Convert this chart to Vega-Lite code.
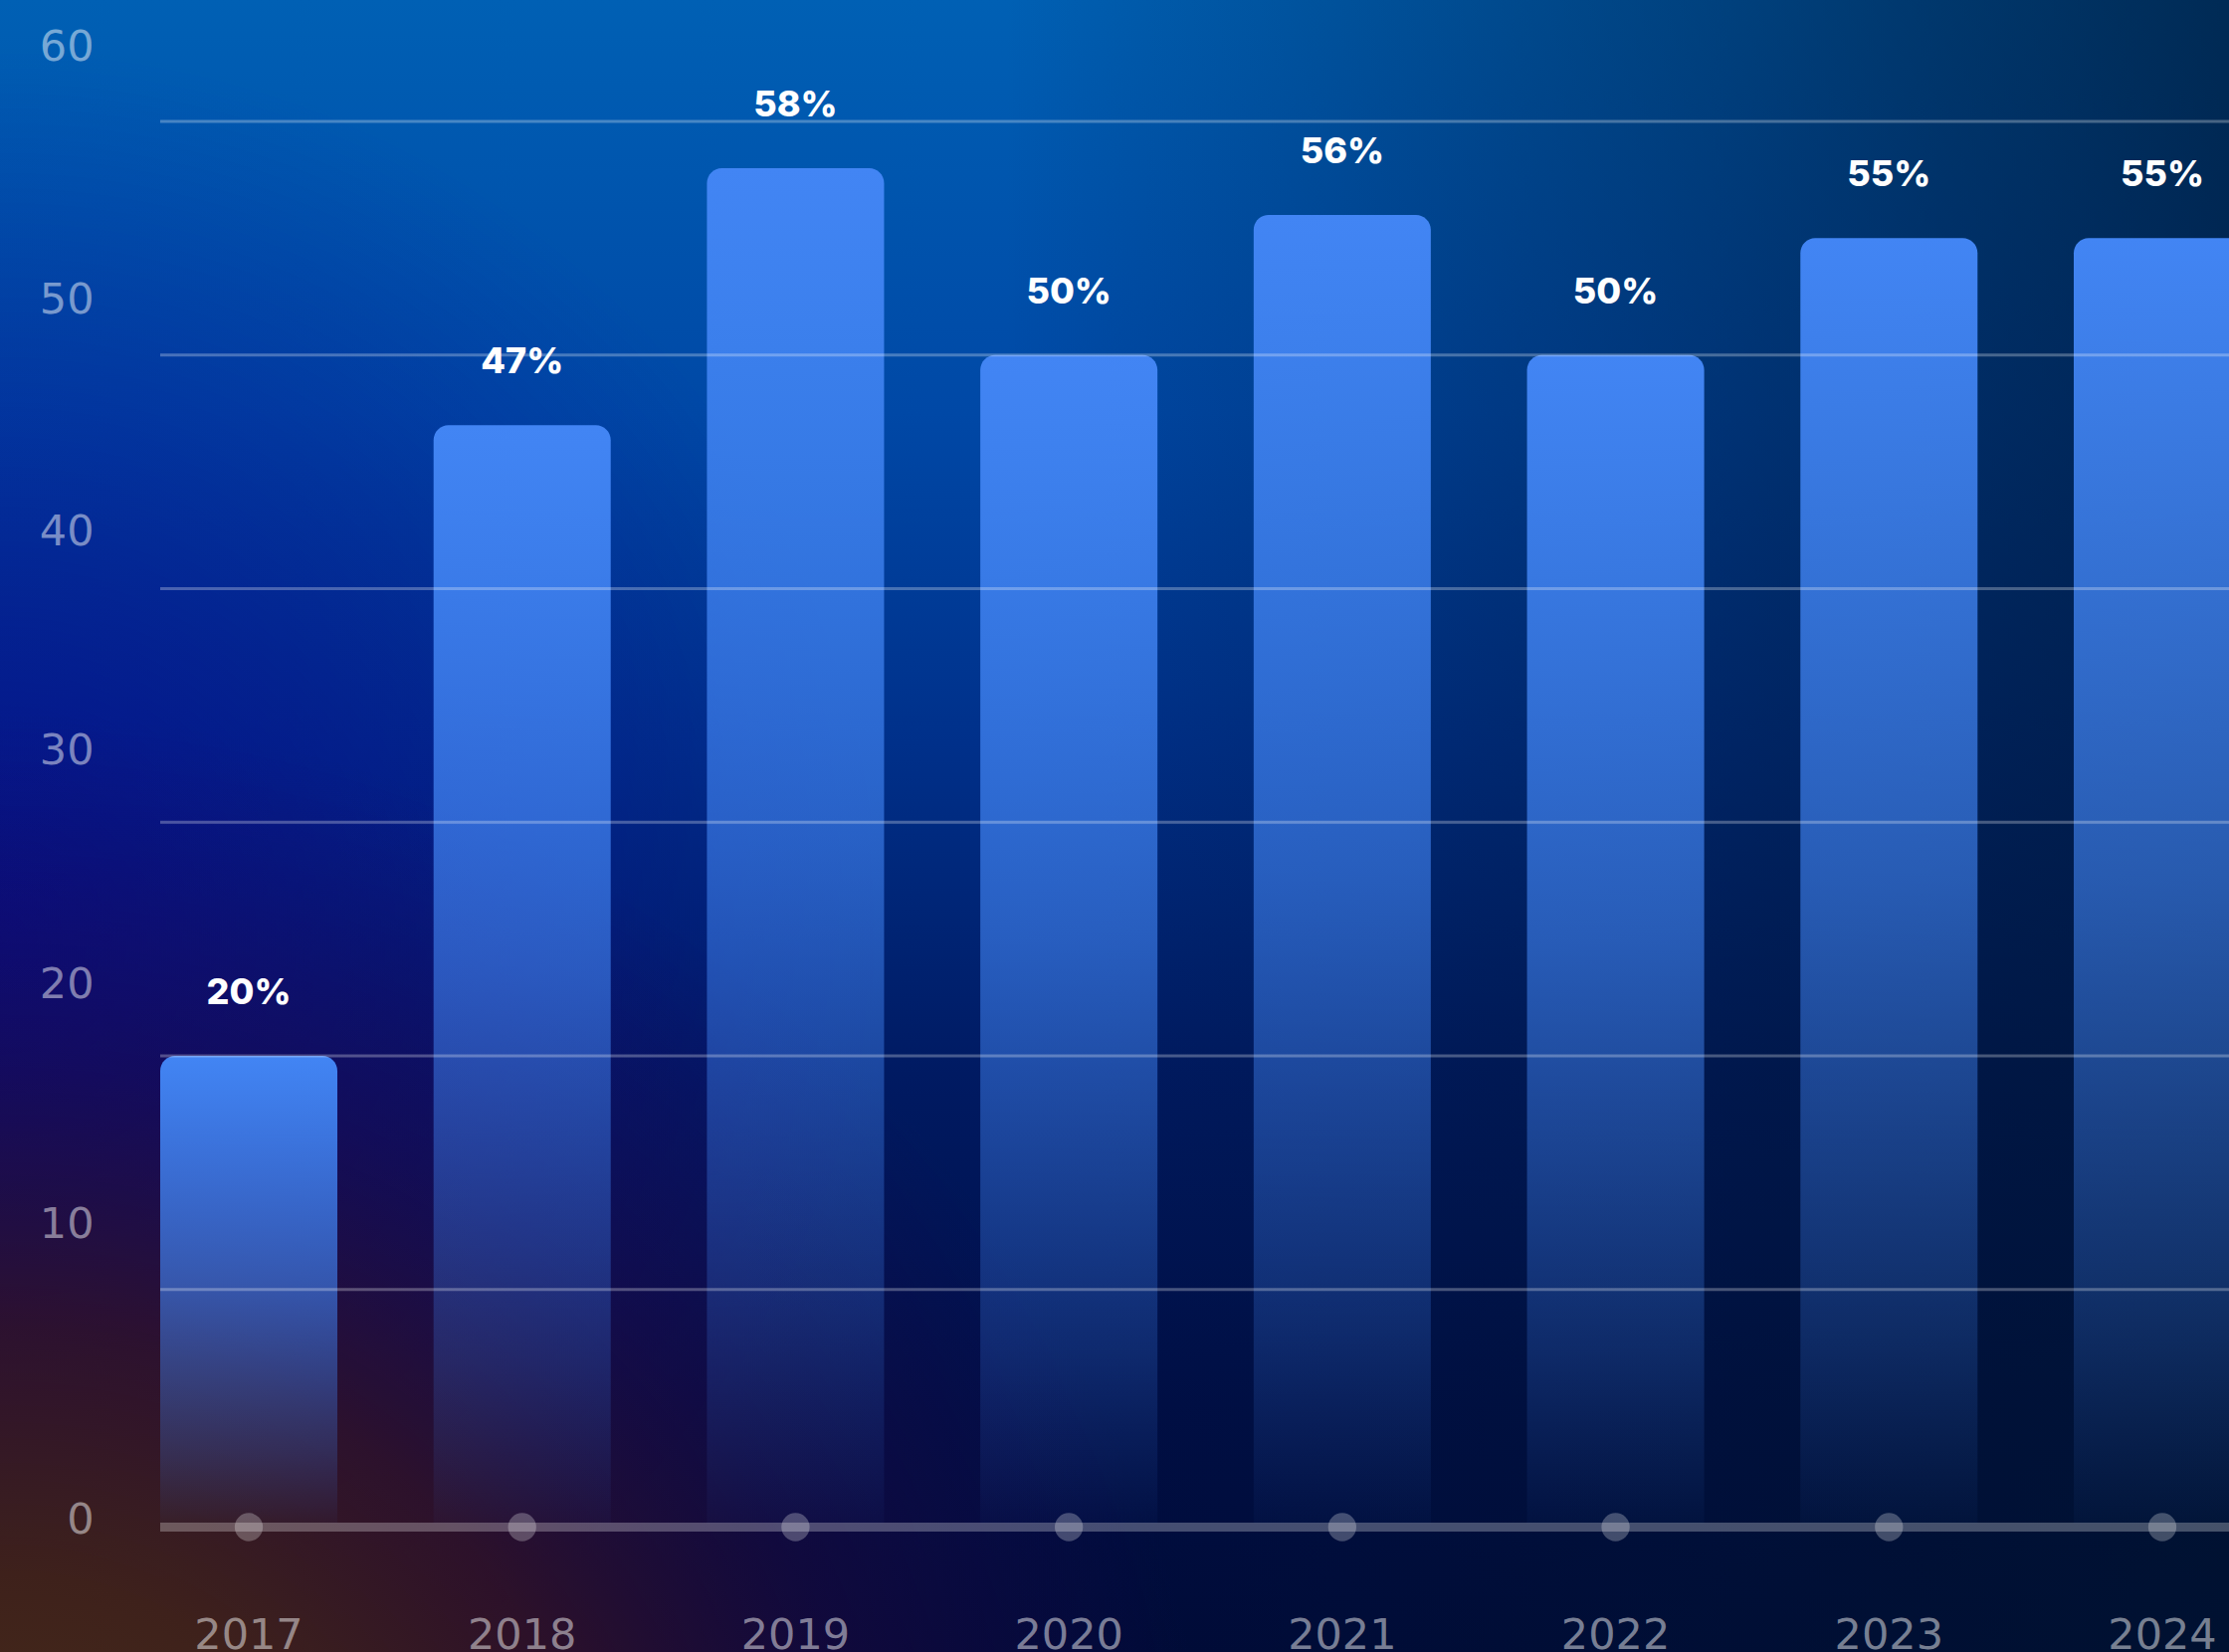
{
  "$schema": "https://vega.github.io/schema/vega-lite/v6.json",
  "width": 2240,
  "height": 1660,
  "autosize": {"type": "none"},
  "padding": 0,
  "background": "#002060",
  "config": {"view": {"stroke": null}, "font": "DejaVu Sans"},
  "datasets": {
    "bars": [
      {"year": "2017", "value": 20, "label": "20%"},
      {"year": "2018", "value": 47, "label": "47%"},
      {"year": "2019", "value": 58, "label": "58%"},
      {"year": "2020", "value": 50, "label": "50%"},
      {"year": "2021", "value": 56, "label": "56%"},
      {"year": "2022", "value": 50, "label": "50%"},
      {"year": "2023", "value": 55, "label": "55%"},
      {"year": "2024", "value": 55, "label": "55%"}
    ],
    "grid": [
      {"value": 10}, {"value": 20}, {"value": 30}, {"value": 40}, {"value": 50}, {"value": 60}
    ],
    "zero": [{"value": 0}]
  },
  "data": {"name": "bars"},
  "layer": [
    {
      "data": {"values": [{}]},
      "mark": {"type": "rect", "fill": {"gradient": "linear", "x1": 0.5, "y1": 0, "x2": 0.5, "y2": 1, "stops": [
        {"offset": 0, "color": "#0060b4"},
        {"offset": 0.25, "color": "#0048a6"},
        {"offset": 0.45, "color": "#00308a"},
        {"offset": 0.65, "color": "#001a62"},
        {"offset": 0.85, "color": "#000e46"},
        {"offset": 1, "color": "#000a38"}
      ]}},
      "encoding": {"x": {"value": 0}, "x2": {"value": "width"}, "y": {"value": 0}, "y2": {"value": "height"}}
    },
    {
      "data": {"values": [{}]},
      "mark": {"type": "rect", "fill": {"gradient": "linear", "x1": 0, "y1": 0.5, "x2": 1, "y2": 0.5, "stops": [
        {"offset": 0, "color": "rgba(0,20,50,0)"},
        {"offset": 0.45, "color": "rgba(0,20,50,0)"},
        {"offset": 1, "color": "rgba(0,20,45,0.7)"}
      ]}},
      "encoding": {"x": {"value": 0}, "x2": {"value": "width"}, "y": {"value": 0}, "y2": {"value": "height"}}
    },
    {
      "data": {"values": [{}]},
      "mark": {"type": "rect", "fill": {"gradient": "radial", "x1": 0, "y1": 0.55, "r1": 0, "x2": 0, "y2": 0.55, "r2": 0.4, "stops": [
        {"offset": 0, "color": "rgba(8,5,140,0.7)"},
        {"offset": 1, "color": "rgba(8,5,140,0)"}
      ]}},
      "encoding": {"x": {"value": 0}, "x2": {"value": "width"}, "y": {"value": 0}, "y2": {"value": "height"}}
    },
    {
      "data": {"values": [{}]},
      "mark": {"type": "rect", "fill": {"gradient": "radial", "x1": 0, "y1": 1, "r1": 0, "x2": 0, "y2": 1, "r2": 0.55, "stops": [
        {"offset": 0, "color": "rgba(78,52,22,1)"},
        {"offset": 0.3, "color": "rgba(64,34,26,0.97)"},
        {"offset": 0.5, "color": "rgba(52,18,38,0.85)"},
        {"offset": 0.72, "color": "rgba(36,8,62,0.45)"},
        {"offset": 1, "color": "rgba(30,5,80,0)"}
      ]}},
      "encoding": {"x": {"value": 0}, "x2": {"value": "width"}, "y": {"value": 0}, "y2": {"value": "height"}}
    },
    {
      "mark": {"type": "bar", "cornerRadiusTopLeft": 15, "cornerRadiusTopRight": 15, "fill": {"gradient": "linear", "x1": 0, "y1": 0, "x2": 0, "y2": 1, "stops": [
        {"offset": 0, "color": "rgba(66,133,244,1)"},
        {"offset": 0.5, "color": "rgba(66,133,244,0.6)"},
        {"offset": 0.85, "color": "rgba(66,133,244,0.22)"},
        {"offset": 1, "color": "rgba(66,133,244,0.03)"}
      ]}},
      "encoding": {
        "x": {"field": "year", "type": "ordinal", "scale": {"range": [161, 2262], "paddingInner": 0.352, "paddingOuter": 0},
          "axis": {"orient": "bottom", "zindex": 1, "offset": -38, "labelPadding": 0, "ticks": false, "tickSize": 0, "domain": false, "grid": false, "title": null,
            "labelFont": "DejaVu Sans", "labelFontSize": 43, "labelColor": "#ffffff", "labelOpacity": 0.48, "labelBaseline": "top", "labelAngle": 0}},
        "y": {"field": "value", "type": "quantitative", "scale": {"domain": [-5.517, 65.197], "nice": false, "zero": false},
          "axis": {"orient": "left", "zindex": 1, "offset": -94, "values": [0, 10, 20, 30, 40, 50, 60], "ticks": false, "tickSize": 0, "domain": false, "grid": false, "title": null,
            "labelFont": "DejaVu Sans", "labelFontSize": 43, "labelColor": "#ffffff", "labelOpacity": 0.48, "labelPadding": 0, "labelAlign": "right",
            "labelOffset": {"condition": [
              {"test": "datum.value === 60", "value": -74},
              {"test": "datum.value === 50", "value": -55},
              {"test": "datum.value === 40", "value": -57},
              {"test": "datum.value === 30", "value": -72},
              {"test": "datum.value === 20", "value": -71},
              {"test": "datum.value === 10", "value": -65}
            ], "value": -3}}},
        "y2": {"datum": 0}
      }
    },
    {
      "data": {"name": "grid"},
      "mark": {"type": "rule", "stroke": "#ffffff", "strokeOpacity": 0.28, "strokeWidth": 3},
      "encoding": {
        "y": {"field": "value", "type": "quantitative"},
        "x": {"datum": "2017", "type": "ordinal", "bandPosition": 0},
        "x2": {"value": "width"}
      }
    },
    {
      "data": {"name": "zero"},
      "mark": {"type": "rule", "stroke": "#ffffff", "strokeOpacity": 0.27, "strokeWidth": 9, "yOffset": 4},
      "encoding": {
        "y": {"field": "value", "type": "quantitative"},
        "x": {"datum": "2017", "type": "ordinal", "bandPosition": 0},
        "x2": {"value": "width"}
      }
    },
    {
      "mark": {"type": "point", "filled": true, "fill": "#ffffff", "opacity": 0.26, "size": 800, "yOffset": 4},
      "encoding": {
        "x": {"field": "year", "type": "ordinal"},
        "y": {"datum": 0, "type": "quantitative"}
      }
    },
    {
      "mark": {"type": "text", "font": "Inter", "fontSize": 36, "fontWeight": 800, "fill": "#ffffff", "baseline": "alphabetic", "align": "center", "dy": -52},
      "encoding": {
        "x": {"field": "year", "type": "ordinal"},
        "y": {"field": "value", "type": "quantitative"},
        "text": {"field": "label"}
      }
    }
  ]
}
